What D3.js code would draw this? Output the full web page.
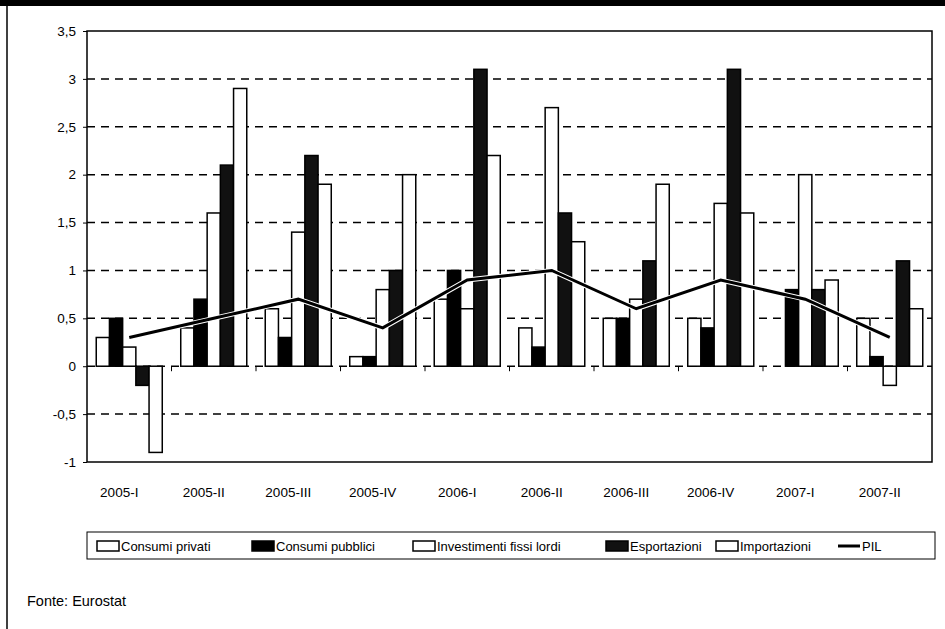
<html>
<head>
	<title>PIL e componenti</title>
	<meta charset="utf-8">
	<script src="https://d3js.org/d3.v7.min.js"></script>
	<style>
		body { margin: 0; background: #fff; }
		text { font-family: "Liberation Sans", Arial, sans-serif; fill: #000; }
	</style>
</head>
<body>
	<svg id="chart" width="945" height="629"></svg>

	<script type="text/javascript">
		// data
		var categories = ["2005-I", "2005-II", "2005-III", "2005-IV", "2006-I", "2006-II", "2006-III", "2006-IV", "2007-I", "2007-II"]
		var seriesNames = ["Consumi privati", "Consumi pubblici", "Investimenti fissi lordi", "Esportazioni", "Importazioni"]
		var consumiPrivati   = [0.3, 0.4, 0.6, 0.1, 0.7, 0.4, 0.5, 0.5, 0.0, 0.5]
		var consumiPubblici  = [0.5, 0.7, 0.3, 0.1, 1.0, 0.2, 0.5, 0.4, 0.8, 0.1]
		var investimenti     = [0.2, 1.6, 1.4, 0.8, 0.6, 2.7, 0.7, 1.7, 2.0, -0.2]
		var esportazioni     = [-0.2, 2.1, 2.2, 1.0, 3.1, 1.6, 1.1, 3.1, 0.8, 1.1]
		var importazioni     = [-0.9, 2.9, 1.9, 2.0, 2.2, 1.3, 1.9, 1.6, 0.9, 0.6]
		var pil              = [0.3, 0.5, 0.7, 0.4, 0.9, 1.0, 0.6, 0.9, 0.7, 0.3]
		var yTicks = [-1, -0.5, 0, 0.5, 1, 1.5, 2, 2.5, 3, 3.5]
		var seriesValues = [consumiPrivati, consumiPubblici, investimenti, esportazioni, importazioni]
		var seriesFill = ["#fff", "#000", "#fff", "#111", "#fff"]

		var svg = d3.select("#chart")

		// outer frame: black band on top, line on the left
		svg.append("rect").attr("x", 0).attr("y", 0).attr("width", 945).attr("height", 6).attr("fill", "#000")
		svg.append("line").attr("x1", 7).attr("x2", 7).attr("y1", 0).attr("y2", 629)
			.attr("stroke", "#000").attr("stroke-width", 1.5)

		// plot box (note: "top" is taken by window.top, so use other names)
		var plotLeft = 87, plotRight = 932, plotTop = 31, plotBottom = 462

		var x = d3.scaleBand().domain(categories).range([plotLeft, plotRight])
		var xs = d3.scaleBand().domain(seriesNames).range([0, x.bandwidth()]).paddingOuter(0.7)
		var y = d3.scaleLinear().domain([-1, 3.5]).range([plotBottom, plotTop])
		var fmt = d => String(d).replace(".", ",")

		// dashed gridlines
		svg.append("g").selectAll("line")
		  .data(yTicks.filter(d => d > -1 && d < 3.5))
		  .enter()
		  .append("line")
			.attr("x1", plotLeft).attr("x2", plotRight)
			.attr("y1", d => y(d)).attr("y2", d => y(d))
			.attr("stroke", "#000").attr("stroke-width", 1.5)
			.attr("stroke-dasharray", "8,6")

		// y axis
		var yAxis = svg.append("g")
			.attr("transform", "translate(" + plotLeft + ",0)")
			.call(d3.axisLeft(y).tickValues(yTicks).tickFormat(fmt).tickSize(4).tickPadding(7))
		yAxis.select(".domain").remove()
		yAxis.selectAll("line").attr("stroke", "#000")
		yAxis.selectAll("text").attr("font-size", 13.5).attr("fill", "#000")
			.style("font-family", "'Liberation Sans', Arial, sans-serif")

		// bars
		var rows = []
		categories.forEach(function(c, i) {
			seriesNames.forEach(function(s, j) {
				rows.push({cat: c, name: s, value: seriesValues[j][i], fill: seriesFill[j]})
			})
		})
		svg.append("g").selectAll("rect")
		  .data(rows.filter(d => d.value != 0))
		  .enter()
		  .append("rect")
			.attr("x", d => x(d.cat) + xs(d.name))
			.attr("width", xs.bandwidth())
			.attr("y", d => y(Math.max(0, d.value)))
			.attr("height", d => Math.abs(y(d.value) - y(0)))
			.attr("fill", d => d.fill)
			.attr("stroke", "#000").attr("stroke-width", 1.5)

		// category ticks on the zero line
		svg.append("g").selectAll("line")
		  .data(categories.slice(1))
		  .enter()
		  .append("line")
			.attr("x1", d => x(d)).attr("x2", d => x(d))
			.attr("y1", y(0)).attr("y2", y(0) + 5)
			.attr("stroke", "#000").attr("stroke-width", 1)

		// PIL line with a white halo
		var line = d3.line().x((d, i) => x(categories[i]) + x.bandwidth() / 2).y(d => y(d))
		svg.append("path").datum(pil).attr("d", line)
			.attr("fill", "none").attr("stroke", "#fff").attr("stroke-width", 5)
		svg.append("path").datum(pil).attr("d", line)
			.attr("fill", "none").attr("stroke", "#000").attr("stroke-width", 3)

		// plot border
		svg.append("rect").attr("x", plotLeft).attr("y", plotTop)
			.attr("width", plotRight - plotLeft).attr("height", plotBottom - plotTop)
			.attr("fill", "none").attr("stroke", "#000").attr("stroke-width", 1.5)

		// category labels
		svg.append("g").selectAll("text")
		  .data(categories)
		  .enter()
		  .append("text")
			.attr("x", d => x(d) + x.bandwidth() / 2 - 10)
			.attr("y", 497)
			.attr("text-anchor", "middle")
			.attr("font-size", 13.5)
			.text(d => d)

		// legend
		svg.append("rect").attr("x", 87).attr("y", 532).attr("width", 848).attr("height", 27)
			.attr("fill", "none").attr("stroke", "#000").attr("stroke-width", 1)
		var legendX = [97, 252, 413, 606, 716]
		var legend = svg.append("g").selectAll("g")
		  .data(seriesNames)
		  .enter()
		  .append("g")
			.attr("transform", (d, i) => "translate(" + legendX[i] + ",546)")
		legend.append("rect")
			.attr("x", 0).attr("y", -5).attr("width", 22).attr("height", 10)
			.attr("fill", (d, i) => seriesFill[i]).attr("stroke", "#000").attr("stroke-width", 1.5)
		legend.append("text")
			.attr("x", 24).attr("y", 5)
			.attr("font-size", 13)
			.text(d => d)
		svg.append("line").attr("x1", 838).attr("x2", 860).attr("y1", 546).attr("y2", 546)
			.attr("stroke", "#000").attr("stroke-width", 3)
		svg.append("text").attr("x", 862).attr("y", 551).attr("font-size", 13).text("PIL")

		// source
		svg.append("text").attr("x", 27).attr("y", 606).attr("font-size", 14.5).text("Fonte: Eurostat")
	</script>
</body>
</html>
